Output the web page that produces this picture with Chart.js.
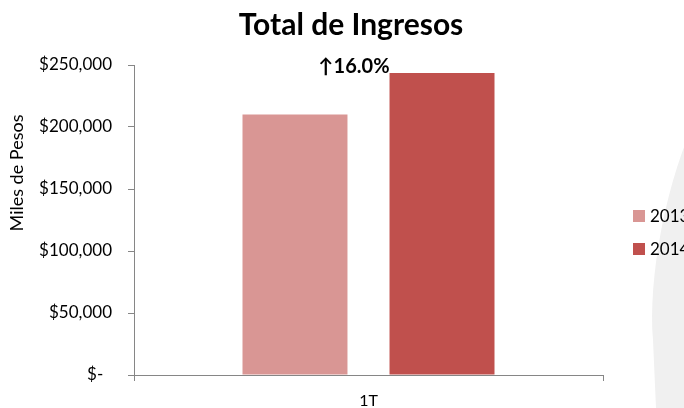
<!DOCTYPE html>
<html>
<head>
<meta charset="utf-8">
<script src="https://cdn.jsdelivr.net/npm/chart.js@4"></script>
<style>
  html, body { margin: 0; padding: 0; background: #fff; overflow: hidden; }
  #wrap { width: 684px; height: 408px; overflow: hidden; position: relative; }
  canvas { display: block; }
</style>
</head>
<body>
<div id="wrap"><canvas id="chart" width="720" height="408"></canvas></div>
<script>
const categories = ['1T'];
const seriesNames = ['2013', '2014'];
const values2013 = [210000];
const values2014 = [243600];
const yTicks = [0, 50000, 100000, 150000, 200000, 250000];
const changeLabel = '↑16.0%';
const chartTitle = 'Total de Ingresos';
const yTitle = 'Miles de Pesos';

const COLORS = ['#D99694', '#C0504D'];
const FONT = 'Lato, "Open Sans", sans-serif';

function formatMoney(v) {
    if (v === 0) return '$-  ';
    return '$' + v.toLocaleString('en-US');
}

// draws title, axis title, legend and the change label
const extras = {
    id: 'extras',
    beforeDraw(chart) {
        const ctx = chart.ctx;
        ctx.save();
        // faint background shape at the right edge
        ctx.fillStyle = '#f0f0f0';
        ctx.beginPath();
        ctx.moveTo(700, 110);
        ctx.bezierCurveTo(665, 180, 648, 280, 653, 340);
        ctx.lineTo(656, 408);
        ctx.lineTo(720, 408);
        ctx.lineTo(720, 110);
        ctx.closePath();
        ctx.fill();
        ctx.restore();
    },
    afterDraw(chart) {
        const ctx = chart.ctx;
        ctx.save();
        ctx.fillStyle = '#000';
        ctx.textAlign = 'center';
        ctx.textBaseline = 'middle';
        ctx.font = 'bold 30px ' + FONT;
        ctx.fillText(chartTitle, 351, 25);

        ctx.save();
        ctx.translate(17, 173);
        ctx.rotate(-Math.PI / 2);
        ctx.font = '18px ' + FONT;
        ctx.fillText(yTitle, 0, 0);
        ctx.restore();

        // legend
        ctx.textAlign = 'left';
        ctx.font = '17px ' + FONT;
        seriesNames.forEach((name, i) => {
            const y = 216 + i * 33;
            ctx.fillStyle = COLORS[i];
            ctx.fillRect(633, y - 6, 12, 12);
            ctx.fillStyle = '#000';
            ctx.fillText(name, 650, y + 1);
        });

        // change label next to the 2014 bar
        const bar = chart.getDatasetMeta(1).data[0];
        ctx.textAlign = 'right';
        ctx.font = 'bold 20px ' + FONT;
        ctx.fillStyle = '#000';
        ctx.fillText(changeLabel, bar.x - bar.width / 2, bar.y - 6);
        ctx.restore();
    }
};

new Chart(document.getElementById('chart'), {
    type: 'bar',
    data: {
        labels: categories,
        datasets: [
            { label: seriesNames[0], data: values2013, backgroundColor: COLORS[0] },
            { label: seriesNames[1], data: values2014, backgroundColor: COLORS[1] }
        ]
    },
    options: {
        responsive: false,
        animation: false,
        categoryPercentage: 0.627,
        barPercentage: 0.714,
        layout: { padding: { top: 65, right: 117, bottom: 0, left: 0 } },
        plugins: {
            legend: { display: false },
            title: { display: false },
            tooltip: { enabled: false }
        },
        scales: {
            x: {
                afterFit: (s) => { s.height = 33; },
                grid: { drawOnChartArea: false, tickLength: 6, color: '#868686' },
                border: { color: '#868686' },
                ticks: { color: '#000', font: { family: FONT, size: 16 }, padding: 10 }
            },
            y: {
                min: 0,
                max: 250000,
                afterFit: (s) => { s.width = 134; },
                afterBuildTicks: (s) => { s.ticks = yTicks.map(v => ({ value: v })); },
                grid: { drawOnChartArea: false, tickLength: 6, color: '#868686' },
                border: { color: '#868686' },
                ticks: {
                    color: '#000',
                    font: { family: FONT, size: 17 },
                    padding: 16,
                    callback: (v) => formatMoney(v)
                }
            }
        }
    },
    plugins: [extras]
});
</script>
</body>
</html>
